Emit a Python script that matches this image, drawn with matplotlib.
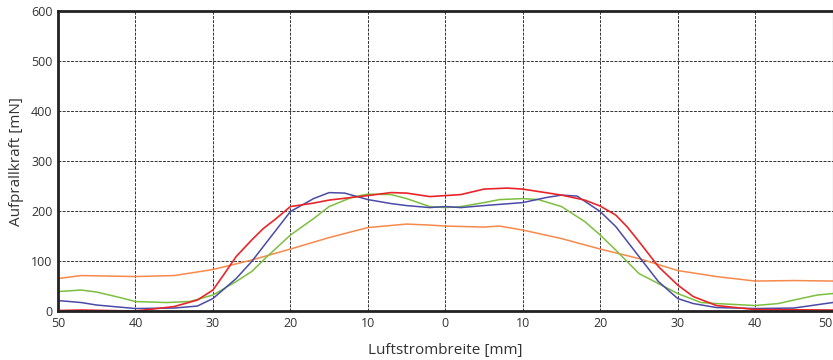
import matplotlib
matplotlib.use('Agg')
import matplotlib.pyplot as plt

plt.rcParams['font.family'] = ['Open Sans', 'DejaVu Sans']

# Breite in mm (links negativ, Beschriftung als Betrag)
x_orange = [-50, -47, -40, -35, -30, -25, -20, -15, -10, -5, -2, 0, 5, 7, 10, 15, 20, 25, 30, 35, 40, 45, 50]
y_orange = [65, 71, 69, 71, 83, 102, 124, 147, 167, 174, 172, 170, 168, 170, 162, 145, 124, 105, 81, 69, 60, 61, 60]

x_red = [-50, -47, -40, -35, -32, -30, -28.5, -27, -25, -23.5, -22, -20, -17, -15, -10, -7, -5, -2, 0, 2, 5, 8, 10, 15, 18, 20, 22, 23.5, 25, 27.5, 30, 32, 35, 40, 50]
y_red = [1, 2, 0, 9, 22, 42, 75, 109, 142, 165, 183, 209, 216, 222, 231, 237, 236, 229, 231, 233, 244, 246, 244, 232, 222, 210, 192, 168, 139, 89, 52, 29, 11, 3, 2]

x_blue = [-50, -47, -45, -40, -35, -32, -30, -27, -25, -22, -20, -17, -15, -13, -10, -7, -5, -2, 0, 2, 5, 10, 13, 15, 17, 20, 22, 25, 27.5, 30, 32, 35, 40, 45, 50]
y_blue = [21, 17, 12, 5, 6, 10, 25, 65, 99, 159, 199, 225, 237, 236, 223, 215, 211, 207, 209, 207, 211, 217, 227, 232, 230, 199, 169, 109, 59, 25, 15, 7, 5, 6, 17]

x_green = [-50, -47, -45, -42, -40, -36, -33, -30, -27, -25, -23, -20, -17, -15, -12, -10, -7, -5, -2, 0, 2, 5, 7, 10, 12, 15, 18, 20, 22, 25, 27.5, 30, 33, 35, 40, 43, 45, 48, 50]
y_green = [39, 42, 38, 27, 19, 17, 19, 32, 59, 79, 109, 152, 185, 209, 228, 234, 233, 225, 209, 207, 209, 217, 223, 225, 223, 209, 179, 152, 122, 75, 55, 35, 17, 15, 11, 15, 22, 32, 35]

x_ticks = [-50, -40, -30, -20, -10, 0, 10, 20, 30, 40, 50]
x_ticklabels = ['50', '40', '30', '20', '10', '0', '10', '20', '30', '40', '50']
y_ticks = [0, 100, 200, 300, 400, 500, 600]

fig = plt.figure(figsize=(8.33, 3.6), dpi=100)
ax = fig.add_axes([0.0696, 0.136, 0.93, 0.833])

ax.plot(x_orange, y_orange, color='#f7894a', lw=1.1)
ax.plot(x_green, y_green, color='#7cbf3f', lw=1.1)
ax.plot(x_blue, y_blue, color='#4a4aa8', lw=1.1)
ax.plot(x_red, y_red, color='#e8262a', lw=1.2)

ax.set_xlim(-50, 50)
ax.set_ylim(0, 600)
ax.set_xticks(x_ticks)
ax.set_xticklabels(x_ticklabels)
ax.set_yticks(y_ticks)
ax.tick_params(length=0, labelsize=9, colors='#333333', pad=4)
# letzte Beschriftung rechtsbuendig, damit sie nicht abgeschnitten wird
ax.get_xticklabels()[-1].set_horizontalalignment('right')

# gestricheltes Gitter
ax.grid(True, color='#333333', linestyle=(0, (3, 1.3)), linewidth=0.7)
ax.set_axisbelow(True)

for side in ['left', 'bottom', 'top']:
    ax.spines[side].set_linewidth(2)
    ax.spines[side].set_color('#222222')
ax.spines['right'].set_linewidth(0.8)
ax.spines['right'].set_color('#666666')

ax.set_xlabel('Luftstrombreite [mm]', fontsize=11, color='#333333', labelpad=10)
ax.set_ylabel('Aufprallkraft [mN]', fontsize=11, color='#333333', labelpad=5)

plt.savefig('out.png', dpi=100)
plt.close()
